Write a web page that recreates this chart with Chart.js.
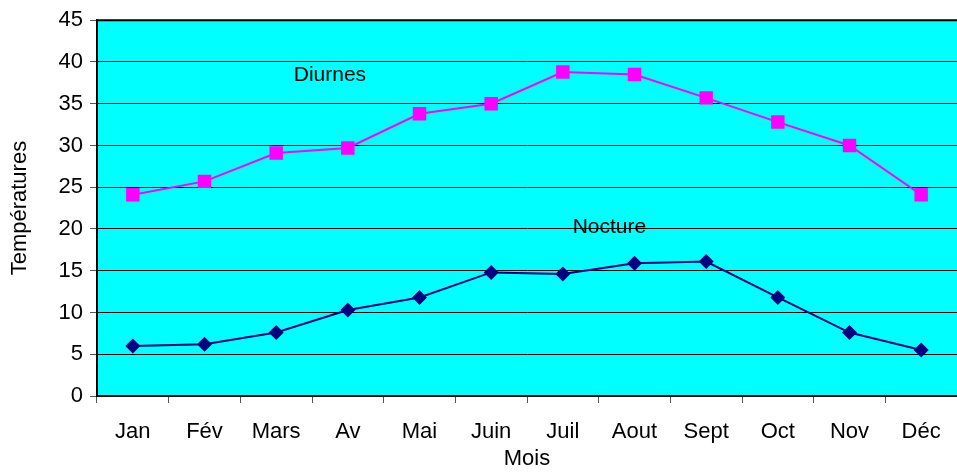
<!DOCTYPE html>
<html>
<head>
  <meta charset="UTF-8">
  <script src="https://cdn.jsdelivr.net/npm/chart.js"></script>
  <title>Températures</title>
  <style>
    html, body { margin: 0; padding: 0; background: #fff; }
    #wrap { width: 957px; height: 473px; }
  </style>
</head>
<body>
  <div id="wrap"><canvas id="myChart"></canvas></div>
  <script>
    // donnees
    const mois = ['Jan', 'Fév', 'Mars', 'Av', 'Mai', 'Juin', 'Juil', 'Aout', 'Sept', 'Oct', 'Nov', 'Déc'];
    const diurnes = [24.1, 25.7, 29.1, 29.7, 33.8, 35.0, 38.8, 38.5, 35.7, 32.8, 30.0, 24.1];
    const nocturnes = [6.0, 6.2, 7.6, 10.3, 11.8, 14.8, 14.6, 15.9, 16.1, 11.8, 7.6, 5.5];
    const yTicks = [0, 5, 10, 15, 20, 25, 30, 35, 40, 45];
    // etiquettes dans le graphique : [texte, index mois, valeur]
    const etiquettes = [['Diurnes', 2.75, 38.4], ['Nocture', 6.65, 20.2]];

    const fondPlugin = {
      id: 'fond',
      beforeDraw(chart) {
        const { ctx, chartArea: a } = chart;
        ctx.save();
        ctx.fillStyle = '#00FFFF';
        ctx.fillRect(a.left, a.top, a.right - a.left, a.bottom - a.top);
        ctx.restore();
      },
      afterDraw(chart) {
        const { ctx, chartArea: a } = chart;
        ctx.save();
        ctx.strokeStyle = '#000';
        ctx.lineWidth = 2;
        ctx.beginPath();
        ctx.moveTo(a.left, a.bottom);
        ctx.lineTo(a.left, a.top);
        ctx.lineTo(a.right, a.top);
        ctx.stroke();
        ctx.restore();
      }
    };

    const textePlugin = {
      id: 'texte',
      afterDatasetsDraw(chart) {
        const ctx = chart.ctx;
        const x = chart.scales.x, y = chart.scales.y;
        ctx.save();
        ctx.fillStyle = '#000';
        ctx.font = '21px "Liberation Sans", Arial, sans-serif';
        ctx.textAlign = 'center';
        ctx.textBaseline = 'middle';
        etiquettes.forEach(e => {
          ctx.fillText(e[0], x.getPixelForValue(e[1]), y.getPixelForValue(e[2]));
        });
        ctx.restore();
      }
    };

    const police = { family: '"Liberation Sans", Arial, sans-serif', size: 22 };

    const ctx = document.getElementById('myChart').getContext('2d');
    const chart = new Chart(ctx, {
      type: 'line',
      data: {
        labels: mois,
        datasets: [{
          label: 'Diurnes',
          data: diurnes,
          borderColor: '#FF00FF',
          backgroundColor: '#FF00FF',
          borderWidth: 2,
          pointStyle: 'rect',
          pointRadius: 9.5,
          pointBorderWidth: 0,
          tension: 0
        }, {
          label: 'Nocture',
          data: nocturnes,
          borderColor: '#000080',
          backgroundColor: '#000080',
          borderWidth: 2,
          pointStyle: 'rectRot',
          pointRadius: 7.5,
          pointBorderWidth: 0,
          tension: 0
        }]
      },
      options: {
        responsive: true,
        maintainAspectRatio: false,
        animation: false,
        layout: { autoPadding: false, padding: { top: 19, right: 0, left: 0, bottom: 0 } },
        plugins: {
          legend: { display: false },
          tooltip: { enabled: false }
        },
        scales: {
          x: {
            offset: true,
            grid: {
              offset: true,
              drawOnChartArea: false,
              color: '#555',
              tickLength: 7
            },
            border: { color: '#000', width: 2 },
            ticks: { color: '#000', font: police, padding: 16, maxRotation: 0 },
            title: { display: true, text: 'Mois', color: '#000', font: police, padding: { top: 1, bottom: 1 } },
            afterFit(scale) { scale.height = 77; }
          },
          y: {
            min: 0,
            max: 45,
            afterBuildTicks(scale) { scale.ticks = yTicks.map(v => ({ value: v })); },
            grid: { color: '#000', lineWidth: 1, tickLength: 7, tickColor: '#555' },
            border: { color: '#000', width: 2 },
            ticks: { color: '#000', font: police, padding: 7 },
            title: { display: true, text: 'Températures', color: '#000', font: police, padding: { top: 7, bottom: 7 } },
            afterFit(scale) { scale.width = 97; }
          }
        }
      },
      plugins: [fondPlugin, textePlugin]
    });
  </script>
</body>
</html>
